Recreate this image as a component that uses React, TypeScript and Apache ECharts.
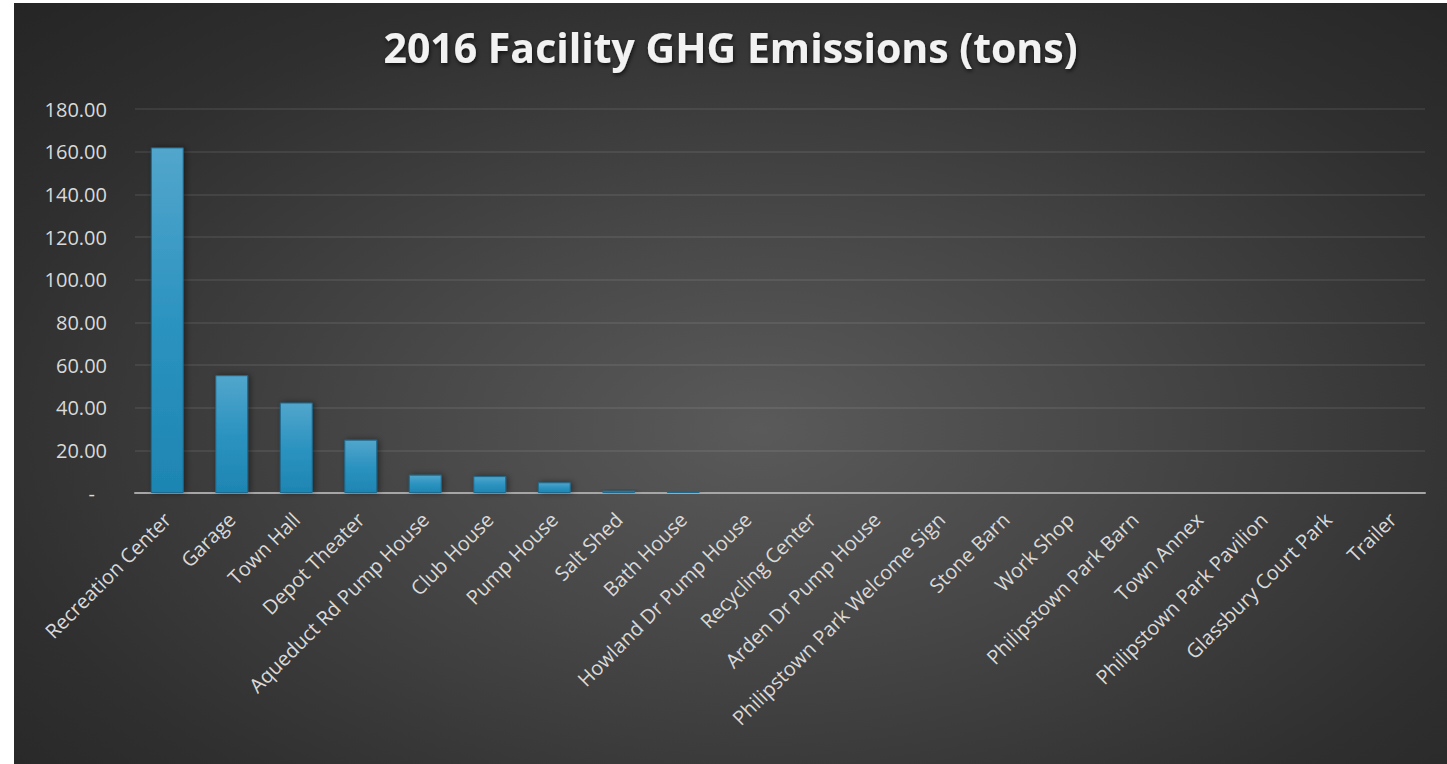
import React, { useEffect, useRef } from "react";
import * as echarts from "echarts";

const categories = [
  "Recreation Center",
  "Garage",
  "Town Hall",
  "Depot Theater",
  "Aqueduct Rd Pump House",
  "Club House",
  "Pump House",
  "Salt Shed",
  "Bath House",
  "Howland Dr Pump House",
  "Recycling Center",
  "Arden Dr Pump House",
  "Philipstown Park Welcome Sign",
  "Stone Barn",
  "Work Shop",
  "Philipstown Park Barn",
  "Town Annex",
  "Philipstown Park Pavilion",
  "Glassbury Court Park",
  "Trailer",
];

const emissions = [
  162.0, 55.2, 42.4, 25.0, 8.6, 7.9, 5.0, 1.1, 0.6, 0.3, 0.2, 0.1, 0.05, 0.03,
  0.02, 0.02, 0.01, 0.01, 0.01, 0.005,
];

const yMin = 0;
const yMax = 180;
const yStep = 20;

const titleText = "2016 Facility GHG Emissions (tons)";

export default function App() {
  const ref = useRef<HTMLDivElement>(null);

  useEffect(() => {
    if (!ref.current) return;
    const chart = echarts.init(ref.current, null, { renderer: "svg" });
    chart.setOption({
      animation: false,
      backgroundColor: "transparent",
      title: {
        text: titleText,
        left: "center",
        top: 18,
        textStyle: {
          color: "#f2f2f2",
          fontFamily: "Open Sans",
          fontWeight: "bold",
          fontSize: 41,
          textShadowColor: "rgba(0,0,0,0.7)",
          textShadowBlur: 4,
          textShadowOffsetX: 1,
          textShadowOffsetY: 2,
        },
      },
      grid: { left: 121, right: 22, top: 106, bottom: 271, containLabel: false },
      xAxis: {
        type: "category",
        data: categories,
        axisLine: { show: true, lineStyle: { color: "#a6a6a6", width: 2 } },
        axisTick: { show: false },
        axisLabel: {
          rotate: 45,
          interval: 0,
          margin: 23,
          color: "#d9d9d9",
          fontFamily: "Open Sans",
          fontSize: 20,
        },
      },
      yAxis: {
        type: "value",
        min: yMin,
        max: yMax,
        interval: yStep,
        axisLine: { show: false },
        axisTick: { show: false },
        splitLine: { lineStyle: { color: "rgba(255,255,255,0.1)", width: 1.5 } },
        axisLabel: {
          margin: 28,
          color: "#d9d9d9",
          fontFamily: "Open Sans",
          fontSize: 20,
          formatter: (v: number) => (v === 0 ? "{d|-}" : v.toFixed(2)),
          rich: {
            d: { padding: [0, 12, 0, 0], color: "#d9d9d9", fontFamily: "Open Sans", fontSize: 20 },
          },
        },
      },
      series: [
        {
          type: "bar",
          data: emissions,
          barCategoryGap: "49%",
          itemStyle: {
            color: new echarts.graphic.LinearGradient(0, 0, 0, 1, [
              { offset: 0, color: "#52a6cc" },
              { offset: 0.5, color: "#2c93c0" },
              { offset: 1, color: "#1e85b2" },
            ]),
            borderColor: "#1d6a90",
            borderWidth: 1,
            shadowColor: "rgba(0,0,0,0.45)",
            shadowBlur: 6,
            shadowOffsetX: 2,
            shadowOffsetY: 0,
          },
        },
      ],
    });
    return () => chart.dispose();
  }, []);

  return (
    <div
      style={{
        position: "absolute",
        left: 14,
        top: 3,
        width: 1433,
        height: 761,
        background:
          "radial-gradient(ellipse at 52% 56%, #5a5a5a 0%, #474747 35%, #2f2f2f 75%, #252525 100%)",
      }}
    >
      <div ref={ref} style={{ width: 1433, height: 761 }} />
    </div>
  );
}
